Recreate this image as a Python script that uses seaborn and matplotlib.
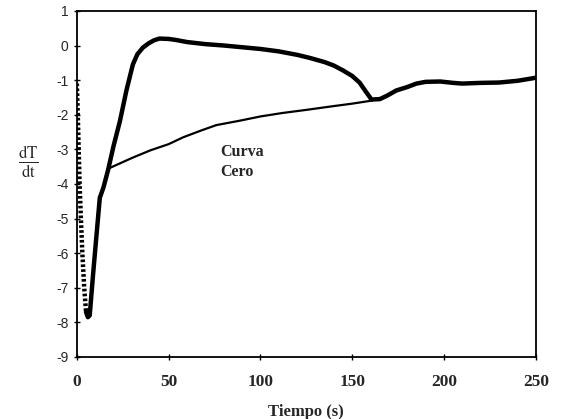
import matplotlib
matplotlib.use('Agg')
from matplotlib import pyplot as plt
import seaborn as sns
import pandas as pd

# tramo inicial (caida rapida, se ve punteado)
t_caida = [0, 0.5, 1, 1.5, 2.2, 3, 4, 5]
v_caida = [-1.1, -2.0, -3.0, -4.0, -5.0, -6.0, -7.0, -7.7]

# resto de la curva dT/dt
t_curva = [5, 6, 7, 8.7, 10.5, 12.5, 14.5, 17, 20, 23.4, 27, 30.5, 33, 36, 39, 42, 45, 50,
           54, 60, 70, 80, 90, 100, 110, 120, 127, 135, 140, 145, 150, 154, 157, 160.5,
           165, 169, 174, 180, 185, 190, 198, 205, 210, 220, 230, 240, 248, 250]
v_curva = [-7.7, -7.85, -7.8, -6.7, -5.6, -4.4, -4.1, -3.6, -2.9, -2.2, -1.3, -0.55,
           -0.25, -0.06, 0.06, 0.15, 0.2, 0.19, 0.16, 0.1, 0.04, 0.0, -0.05, -0.1, -0.17,
           -0.27, -0.36, -0.48, -0.58, -0.72, -0.88, -1.07, -1.3, -1.56, -1.55, -1.45,
           -1.3, -1.2, -1.1, -1.05, -1.04, -1.08, -1.1, -1.08, -1.07, -1.02, -0.95, -0.93]

# curva cero (linea base)
t_cero = [17, 30, 40, 50, 58, 68, 76, 89, 100, 112, 125, 140, 150, 161]
v_cero = [-3.56, -3.25, -3.03, -2.85, -2.65, -2.45, -2.3, -2.17, -2.05, -1.95, -1.86,
          -1.75, -1.68, -1.59]

x_ticks = [0, 50, 100, 150, 200, 250]
y_ticks = list(range(-9, 2))

sns.set_style('white')
plt.rcParams['mathtext.fontset'] = 'stix'

fig = plt.figure(figsize=(5.61, 4.19), dpi=100)
ax = fig.add_axes([0.137, 0.148, 0.818, 0.826])

df_caida = pd.DataFrame({'t': t_caida, 'v': v_caida})
df_curva = pd.DataFrame({'t': t_curva, 'v': v_curva})
df_cero = pd.DataFrame({'t': t_cero, 'v': v_cero})

sns.lineplot(data=df_caida, x='t', y='v', ax=ax, color='black', linewidth=3.2,
             linestyle=(0, (0.6, 0.5)), sort=False)
sns.lineplot(data=df_curva, x='t', y='v', ax=ax, color='black', linewidth=3.2, sort=False,
             solid_joinstyle='round', solid_capstyle='round')
sns.lineplot(data=df_cero, x='t', y='v', ax=ax, color='black', linewidth=1.6, sort=False)

ax.text(78, -2.85, 'Curva\nCero', family='Liberation Serif', fontweight='bold',
        fontsize=11.5, va='top', ha='left', linespacing=1.3)

ax.set_xlim(0, 250)
ax.set_ylim(-9, 1)
ax.set_xticks(x_ticks)
ax.set_yticks(y_ticks)
ax.set_xticklabels([str(x) for x in x_ticks], family='Liberation Serif',
                   fontweight='bold', fontsize=12.5)
ax.set_yticklabels([str(y) for y in y_ticks], family='Liberation Sans', fontsize=10)
ax.tick_params(axis='both', direction='inout', length=4, width=1, color='black',
               bottom=True, left=True)
ax.tick_params(axis='x', pad=10)
ax.tick_params(axis='y', pad=4)

ax.set_xlabel('Tiempo (s)', family='Liberation Serif', fontweight='bold', fontsize=12)
ax.xaxis.set_label_coords(0.5, -0.135)
ax.set_ylabel(r'$\frac{\mathrm{dT}}{\mathrm{dt}}$', rotation=0, fontsize=17)
ax.yaxis.set_label_coords(-0.105, 0.51)

for s in ['left', 'bottom', 'top', 'right']:
    ax.spines[s].set_color('black')
    ax.spines[s].set_linewidth(1.3)

fig.savefig('out.png', dpi=100)
